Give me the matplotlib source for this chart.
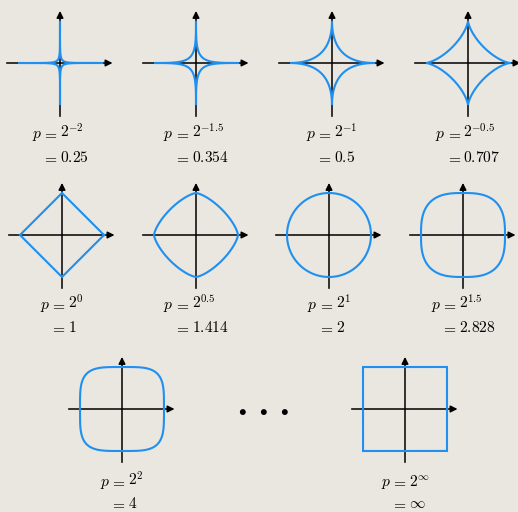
import numpy as np
import matplotlib
matplotlib.use("Agg")
from matplotlib import pyplot as plt

plt.rcParams["mathtext.fontset"] = "cm"

W, H = 518, 512
BG = "#e9e7e0"
BLUE = "#1f8ff0"
FS = 11.2

# exponents k in p = 2**k, and the rounded values printed under each ball
exponents = [-2, -1.5, -1, -0.5, 0, 0.5, 1, 1.5, 2, np.inf]
exp_labels = ["-2", "-1.5", "-1", "-0.5", "0", "0.5", "1", "1.5", "2", r"\infty"]
value_labels = ["0.25", "0.354", "0.5", "0.707", "1", "1.414", "2", "2.828", "4", r"\infty"]

# panel centres in pixels (x from left, y from top)
centres = [(60, 63), (196, 63), (332, 63), (468, 63),
           (62, 235), (196, 235), (329, 235), (463, 235),
           (122, 409), (405, 409)]
label_y = [138, 138, 138, 138, 309, 309, 309, 309, 486, 486]
line_gap = [24, 24, 24, 24, 23, 23, 23, 23, 22, 22]
dots_x = [242, 263, 284]

R = 42.0      # unit radius in pixels
HALF = 62.0   # half size of each panel axes in pixels


def unit_ball(p, n=4000):
    t = np.linspace(0, 2 * np.pi, n)
    if np.isinf(p):
        x = np.clip(np.cos(t) * np.sqrt(2), -1, 1)
        y = np.clip(np.sin(t) * np.sqrt(2), -1, 1)
        return x, y
    c, s = np.cos(t), np.sin(t)
    x = np.sign(c) * np.abs(c) ** (2.0 / p)
    y = np.sign(s) * np.abs(s) ** (2.0 / p)
    return x, y


def fx(x):
    return x / W


def fy(y):
    return 1 - y / H


fig = plt.figure(figsize=(W / 100, H / 100), dpi=100, facecolor=BG)

for (cx, cy), k in zip(centres, exponents):
    ax = fig.add_axes([fx(cx - HALF), fy(cy + HALF), 2 * HALF / W, 2 * HALF / H])
    ax.set_xlim(-HALF / R, HALF / R)
    ax.set_ylim(-HALF / R, HALF / R)
    ax.axis("off")
    ax.patch.set_alpha(0)
    arrow = dict(arrowstyle="-|>", color="black", lw=1.1, mutation_scale=10,
                 shrinkA=0, shrinkB=0)
    ax.annotate("", xy=(1.25, 0), xytext=(-1.27, 0), arrowprops=arrow, zorder=1)
    ax.annotate("", xy=(0, 1.24), xytext=(0, -1.27), arrowprops=arrow, zorder=1)
    p = 2.0 ** k
    x, y = unit_ball(p)
    ax.plot(x, y, color=BLUE, lw=1.5, zorder=2, solid_joinstyle="miter")

renderer = fig.canvas.get_renderer()


def text_width(s):
    t = fig.text(0, 0, s, fontsize=FS)
    w = t.get_window_extent(renderer).width
    t.remove()
    return w


def put(x, y, s):
    fig.text(fx(x), fy(y), s, fontsize=FS, ha="left", va="baseline")


# space before and after the relation sign, in pixels
gap_l = 0.0
gap_r = 2.0
w_p = text_width(r"$p$")
w_eq = text_width(r"$=$")

for (cx, cy), ly, dy, e, v in zip(centres, label_y, line_gap, exp_labels, value_labels):
    rhs1 = r"$2^{%s}$" % e
    rhs2 = r"$%s$" % v
    left = -(w_p + gap_l)
    right = w_eq + gap_r + max(text_width(rhs1), text_width(rhs2))
    eq = cx - (left + right) / 2
    put(eq - gap_l - w_p, ly, r"$p$")
    put(eq, ly, r"$=$")
    put(eq + w_eq + gap_r, ly, rhs1)
    put(eq, ly + dy, r"$=$")
    put(eq + w_eq + gap_r, ly + dy, rhs2)

for x in dots_x:
    fig.text(fx(x), fy(410), r"$\bullet$", fontsize=11, ha="center", va="center")

fig.savefig("out.png", dpi=100, facecolor=BG)
